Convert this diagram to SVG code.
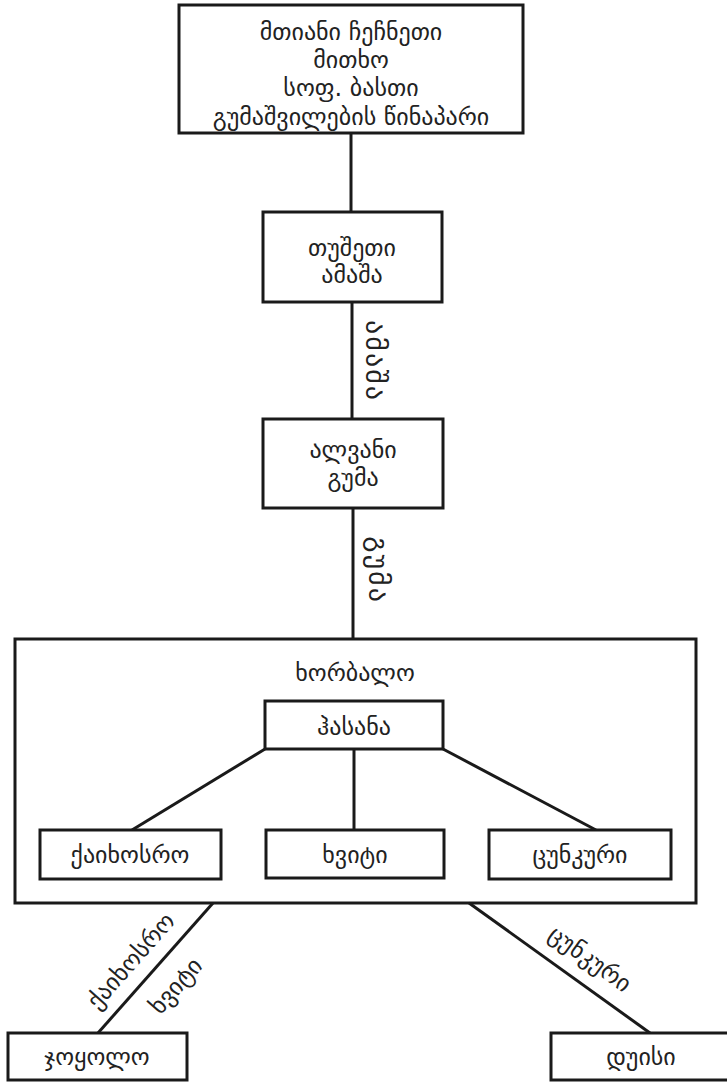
<svg xmlns="http://www.w3.org/2000/svg" width="727" height="1082" viewBox="0 0 727 1082">
<style>
.box{fill:#fff;stroke:#1a1a1a;stroke-width:3}
.outer{fill:none;stroke:#1a1a1a;stroke-width:3}
.ln{stroke:#1a1a1a;stroke-width:3;fill:none}
text{font-family:"DejaVu Sans","Noto Sans",sans-serif;font-size:24px;fill:#222;text-anchor:middle;dominant-baseline:central}
.vert{font-size:28px;letter-spacing:2px}
</style>
<rect width="727" height="1082" fill="#fff"/>
<g id="connectors">
<line class="ln" x1="351" y1="133" x2="351" y2="212"/>
<line class="ln" x1="352" y1="302" x2="352" y2="419"/>
<line class="ln" x1="353" y1="508" x2="353" y2="639"/>
<line class="ln" x1="265" y1="749" x2="132" y2="830"/>
<line class="ln" x1="354" y1="749" x2="354" y2="830"/>
<line class="ln" x1="443" y1="749" x2="596" y2="830"/>
<line class="ln" x1="213" y1="903" x2="98" y2="1033"/>
<line class="ln" x1="469" y1="903" x2="650" y2="1033"/>
<text class="vert" transform="translate(375,361) rotate(90)">ამაშა</text>
<text class="vert" transform="translate(378,570) rotate(90)">გუმა</text>
<text transform="translate(131,961) rotate(-48.5)">ქაიხოსრო</text>
<text transform="translate(176,986) rotate(-48.5)">ხვიტი</text>
<text transform="translate(590,959) rotate(35.7)">ცუნკური</text>
</g>
<g id="node-top">
<rect class="box" x="179" y="5" width="344" height="128"/>
<text x="351" y="32">მთიანი ჩეჩნეთი</text>
<text x="351" y="60">მითხო</text>
<text x="351" y="88">სოფ. ბასთი</text>
<text x="351" y="117">გუმაშვილების წინაპარი</text>
</g>
<g id="node-tusheti">
<rect class="box" x="263" y="212" width="179" height="90"/>
<text x="352" y="248">თუშეთი</text>
<text x="352" y="275">ამაშა</text>
</g>
<g id="node-alvani">
<rect class="box" x="263" y="419" width="180" height="89"/>
<text x="353" y="450">ალვანი</text>
<text x="353" y="478">გუმა</text>
</g>
<g id="node-khorbalo">
<rect class="outer" x="15" y="639" width="681" height="264"/>
<text x="355" y="673">ხორბალო</text>
</g>
<g id="node-hasana">
<rect class="box" x="265" y="701" width="178" height="48"/>
<text x="354" y="727">ჰასანა</text>
</g>
<g id="node-kaikhosro">
<rect class="box" x="40" y="830" width="181" height="49"/>
<text x="130" y="855">ქაიხოსრო</text>
</g>
<g id="node-khviti">
<rect class="box" x="266" y="830" width="178" height="48"/>
<text x="355" y="855">ხვიტი</text>
</g>
<g id="node-tsunkuri">
<rect class="box" x="489" y="830" width="182" height="49"/>
<text x="580" y="855">ცუნკური</text>
</g>
<g id="node-joqolo">
<rect class="box" x="8" y="1033" width="179" height="47"/>
<text x="97" y="1057">ჯოყოლო</text>
</g>
<g id="node-dusisi">
<rect class="box" x="551" y="1033" width="190" height="47"/>
<text x="641" y="1057">დუისი</text>
</g>
</svg>
